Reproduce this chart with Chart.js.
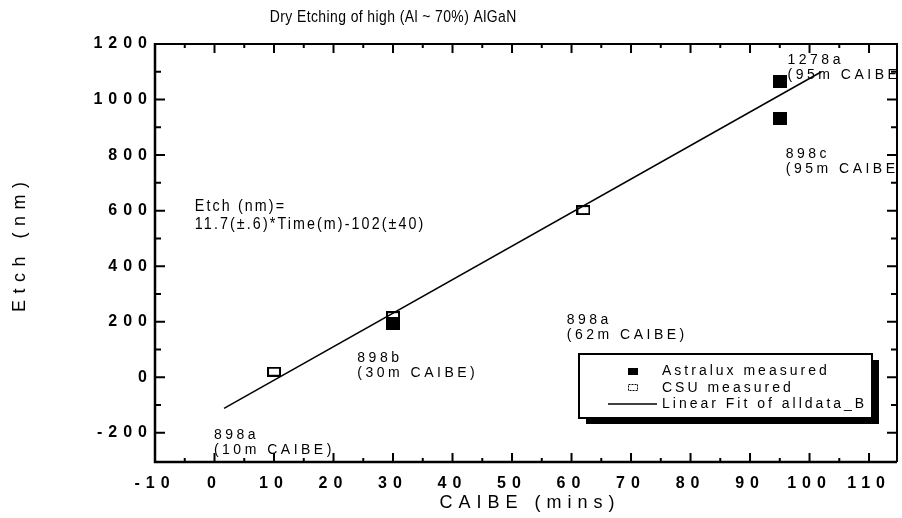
<!DOCTYPE html>
<html>
<head>
<meta charset="utf-8">
<title>Dry Etching of high (Al ~ 70%) AlGaN</title>
<script src="https://cdn.jsdelivr.net/npm/chart.js@4.4.1/dist/chart.umd.min.js"></script>
<style>
  html, body { margin: 0; padding: 0; background: #fff; }
  canvas { display: block; }
</style>
</head>
<body>
<canvas id="etch" width="902" height="518"></canvas>
<script>
// CAIBE time (min) against measured etch depth (nm)
const astraluxTime = [30, 95, 95];
const astraluxEtch = [195, 1065, 932];
const csuTime = [10, 30, 62];
const csuEtch = [20, 220, 602];

// end points of the linear fit over all the data
const fitTime = [1.6, 102];
const fitEtch = [-112, 1100];

// axis tick labels
const xTicks = [-10, 0, 10, 20, 30, 40, 50, 60, 70, 80, 90, 100, 110];
const yTicks = [-200, 0, 200, 400, 600, 800, 1000, 1200];

// sample names beside the points: lines, time, etch (top line)
const sampleNotes = [
    [['1278a', '(95m CAIBE'], 96.3, 1142],
    [['898c', '(95m CAIBE'], 96.0, 802],
    [['898a', '(62m CAIBE)'], 59.2, 207],
    [['898b', '(30m CAIBE)'], 24.0, 68],
    [['898a', '(10m CAIBE)'], -0.1, -209]
];
const fitNote = ['Etch (nm)=', '11.7(\u00b1.6)*Time(m)-102(\u00b140)'];

const FONT = '"Liberation Sans", Arial, sans-serif';

// makes a point marker: filled or open rectangle
function makeMarker(w, h, filled) {
    const c = document.createElement('canvas');
    c.width = w;
    c.height = h;
    const g = c.getContext('2d');
    g.fillStyle = '#000';
    g.fillRect(0, 0, w, h);
    if (!filled) {
        g.clearRect(2, 2, w - 4, h - 4);
    }
    return c;
}
const filledMark = makeMarker(14, 13, true);
const openMark = makeMarker(14, 10, false);

function toPoints(xs, ys) {
    return xs.map((x, i) => ({ x: x, y: ys[i] }));
}

// text with spacing between the letters, optionally narrowed
function spacedText(ctx, text, x, y, font, spacing, align, narrow) {
    const k = narrow || 1;
    ctx.save();
    ctx.font = font;
    ctx.letterSpacing = spacing + 'px';
    ctx.fillStyle = '#000';
    ctx.textBaseline = 'middle';
    ctx.textAlign = 'left';
    const w = (ctx.measureText(text).width - spacing) * k;
    let left = x;
    if (align === 'center') left = x - w / 2;
    if (align === 'right') left = x - w;
    ctx.translate(left, y);
    ctx.scale(k, 1);
    ctx.fillText(text, 0, 0);
    ctx.restore();
}

// axis frame with inward ticks
const framePlugin = {
    id: 'frame',
    beforeDraw(chart) {
        // spacing for the tick labels that Chart.js draws
        chart.ctx.letterSpacing = '6px';
    },
    afterDraw(chart) {
        const ctx = chart.ctx;
        const a = chart.chartArea;
        const xs = chart.scales.x;
        const ys = chart.scales.y;
        ctx.save();
        ctx.letterSpacing = '0px';
        ctx.strokeStyle = '#000';
        ctx.lineCap = 'butt';

        ctx.lineWidth = 2;
        ctx.beginPath();
        ctx.moveTo(a.left, a.top);
        ctx.lineTo(a.right, a.top);
        ctx.lineTo(a.right, a.bottom);
        ctx.stroke();
        ctx.lineWidth = 2.5;
        ctx.beginPath();
        ctx.moveTo(a.left, a.top - 1);
        ctx.lineTo(a.left, a.bottom);
        ctx.lineTo(a.right, a.bottom);
        ctx.stroke();

        ctx.lineWidth = 2;
        ctx.beginPath();
        for (let v = xTicks[0]; v <= xs.max; v += 5) {
            const px = xs.getPixelForValue(v);
            const len = (v % 10 === 0) ? 9 : 4;
            ctx.moveTo(px, a.bottom);
            ctx.lineTo(px, a.bottom - len);
            ctx.moveTo(px, a.top);
            ctx.lineTo(px, a.top + len);
        }
        for (let v = yTicks[0]; v <= ys.max; v += 100) {
            const py = ys.getPixelForValue(v);
            const len = (v % 200 === 0) ? 10 : 6;
            ctx.moveTo(a.left, py);
            ctx.lineTo(a.left + len, py);
            ctx.moveTo(a.right, py);
            ctx.lineTo(a.right - len, py);
        }
        ctx.stroke();
        ctx.restore();
    }
};

// title, axis titles, notes and legend box
const notesPlugin = {
    id: 'notes',
    afterDraw(chart) {
        const ctx = chart.ctx;
        const xs = chart.scales.x;
        const ys = chart.scales.y;

        spacedText(ctx, 'Dry Etching of high (Al ~ 70%) AlGaN', 393, 17, '17px ' + FONT, 0.5, 'center', 0.82);
        spacedText(ctx, 'CAIBE (mins)', 527, 503, '18px ' + FONT, 6, 'center');

        ctx.save();
        ctx.translate(20, 247);
        ctx.rotate(-Math.PI / 2);
        spacedText(ctx, 'Etch (nm)', 0, 0, '18px ' + FONT, 6.5, 'center');
        ctx.restore();

        sampleNotes.forEach(n => {
            const px = xs.getPixelForValue(n[1]);
            const py = ys.getPixelForValue(n[2]);
            n[0].forEach((line, i) => {
                spacedText(ctx, line, px, py + i * 15, '14px ' + FONT, 3.5, 'left');
            });
        });

        const fx = xs.getPixelForValue(-3.3);
        const fy = ys.getPixelForValue(616);
        fitNote.forEach((line, i) => {
            spacedText(ctx, line, fx, fy + i * 18, '17px ' + FONT, 2.5, 'left', 0.84);
        });

        // legend box with drop shadow
        const bx = 579, by = 354, bw = 293, bh = 64;
        ctx.save();
        ctx.letterSpacing = '0px';
        ctx.fillStyle = '#000';
        ctx.fillRect(bx + 7, by + 6, bw, bh);
        ctx.fillStyle = '#fff';
        ctx.fillRect(bx, by, bw, bh);
        ctx.strokeStyle = '#000';
        ctx.lineWidth = 2;
        ctx.strokeRect(bx, by, bw, bh);

        ctx.fillStyle = '#000';
        ctx.fillRect(628, 368, 10, 7);
        ctx.lineWidth = 1;
        ctx.setLineDash([2, 1]);
        ctx.strokeRect(628.5, 384.5, 9, 6);
        ctx.setLineDash([]);
        ctx.lineWidth = 1.5;
        ctx.beginPath();
        ctx.moveTo(608, 404);
        ctx.lineTo(657, 404);
        ctx.stroke();
        ctx.restore();

        spacedText(ctx, 'Astralux measured', 662, 371, '14px ' + FONT, 3, 'left');
        spacedText(ctx, 'CSU measured', 662, 388, '14px ' + FONT, 3, 'left');
        spacedText(ctx, 'Linear Fit of alldata_B', 662, 404, '14px ' + FONT, 3, 'left');
    }
};

new Chart(document.getElementById('etch'), {
    type: 'scatter',
    data: {
        datasets: [
            {
                label: 'Linear Fit of alldata_B',
                data: toPoints(fitTime, fitEtch),
                showLine: true,
                borderColor: '#000',
                borderWidth: 1.5,
                pointRadius: 0,
                order: 0
            },
            {
                label: 'Astralux measured',
                data: toPoints(astraluxTime, astraluxEtch),
                pointStyle: filledMark,
                order: 1
            },
            {
                label: 'CSU measured',
                data: toPoints(csuTime, csuEtch),
                pointStyle: openMark,
                order: 2
            }
        ]
    },
    options: {
        responsive: false,
        animation: false,
        devicePixelRatio: 1,
        layout: { padding: { top: 44, right: 2, left: 0, bottom: 0 } },
        scales: {
            x: {
                type: 'linear',
                min: -10,
                max: 114.7,
                afterBuildTicks: s => { s.ticks = xTicks.map(v => ({ value: v })); },
                afterFit: s => { s.height = 56; },
                grid: { display: false, drawTicks: false },
                border: { display: false },
                ticks: {
                    padding: 12,
                    color: '#000',
                    font: { family: FONT, size: 16, weight: 'bold' },
                    maxRotation: 0,
                    autoSkip: false,
                    callback: v => String(v)
                }
            },
            y: {
                type: 'linear',
                min: -305,
                max: 1200,
                afterBuildTicks: s => { s.ticks = yTicks.map(v => ({ value: v })); },
                afterFit: s => { s.width = 155; },
                grid: { display: false, drawTicks: false },
                border: { display: false },
                ticks: {
                    padding: 2,
                    color: '#000',
                    font: { family: FONT, size: 16, weight: 'bold' },
                    autoSkip: false,
                    callback: v => String(v)
                }
            }
        },
        plugins: {
            legend: { display: false },
            tooltip: { enabled: false }
        }
    },
    plugins: [framePlugin, notesPlugin]
});
</script>
</body>
</html>
